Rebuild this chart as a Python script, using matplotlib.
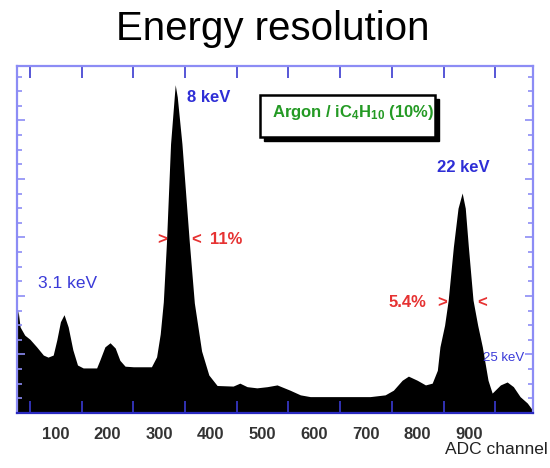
import matplotlib
matplotlib.use("Agg")
import matplotlib.pyplot as plt
from matplotlib.patches import Rectangle

plt.rcParams['font.family'] = ['Liberation Sans', 'DejaVu Sans']
plt.rcParams['mathtext.fontset'] = 'custom'
plt.rcParams['mathtext.rm'] = 'Liberation Sans:bold'
plt.rcParams['mathtext.it'] = 'Liberation Sans:bold'
plt.rcParams['mathtext.bf'] = 'Liberation Sans:bold'

# ---- data ----
adc_channel = [25, 27, 31, 40, 50, 63, 76, 85, 95, 102, 109, 116, 124, 133, 142, 153,
               179, 185, 195, 205, 215, 224, 234, 250, 285, 295, 302, 308, 314, 322,
               331, 335, 344, 358, 368, 382, 396, 412, 443, 456, 470, 489, 509, 528,
               553, 573, 592, 644, 708, 737, 753, 770, 782, 799, 815, 828, 838, 843,
               852, 859, 869, 878, 886, 892, 898, 907, 916, 925, 936, 944, 960, 973,
               985, 998, 1012, 1022]
counts = [1500, 1760, 1470, 1330, 1260, 1130, 990, 955, 990, 1250, 1560, 1680, 1470,
          1080, 820, 770, 770, 900, 1130, 1200, 1110, 900, 800, 790, 790, 960, 1350,
          1900, 2900, 4600, 5610, 5400, 4600, 2950, 1880, 1060, 650, 470, 460, 510,
          450, 430, 450, 480, 390, 310, 280, 280, 280, 310, 390, 560, 630, 560, 480,
          510, 730, 1130, 1500, 1930, 2840, 3500, 3760, 3500, 2840, 1930, 1500, 1130,
          560, 340, 480, 530, 450, 280, 170, 50]

xtick_labels = [100, 200, 300, 400, 500, 600, 700, 800, 900]
xtick_marks = [50, 150, 250, 350, 450, 550, 650, 750, 850, 950]

peak_labels = ["3.1 keV", "8 keV", "22 keV", "25 keV"]
peak_label_pos = [(65, 2220), (354, 5385), (838, 4190), (927, 940)]
fwhm_labels = ["11%", "5.4%"]

fig = plt.figure(figsize=(5.5, 4.68), dpi=100)
ax = fig.add_axes([17/550, 1-413/468, (533-17)/550, (413-66)/468])

ax.fill_between(adc_channel, counts, 0, color='black', lw=0, zorder=1)
ax.set_xlim(25, 1023)
ax.set_ylim(0, 5930)

frame = '#8c8cf5'
for side in ['left', 'right', 'top']:
    ax.spines[side].set_color(frame)
    ax.spines[side].set_linewidth(1.6)
ax.spines['bottom'].set_color('#2a2ac0')
ax.spines['bottom'].set_linewidth(1.6)
for s in ax.spines.values():
    s.set_zorder(3)

ax.set_xticks(xtick_labels)
ax.set_xticklabels([str(v) for v in xtick_labels], fontsize=12, fontweight='bold', color='#333333')
ax.set_xticks(xtick_marks, minor=True)
ax.tick_params(axis='x', which='major', length=0, pad=10)
ax.tick_params(axis='x', which='minor', direction='in', length=8.5, width=1.2,
               color='#3a3ad0', top=True, bottom=True)

ax.set_yticks(range(0, 6000, 1000))
ax.set_yticks(range(0, 6000, 250), minor=True)
ax.tick_params(axis='y', which='major', direction='in', length=6, width=1.2,
               color=frame, left=True, right=True, labelleft=False)
ax.tick_params(axis='y', which='minor', direction='in', length=3.5, width=1.2,
               color=frame, left=True, right=True)

blue = '#2e2ed6'
red = '#e63232'
green = '#249a24'
ax.text(*peak_label_pos[0], peak_labels[0], color='#3a3ad8', fontsize=12.5, ha='left', va='center')
ax.text(*peak_label_pos[1], peak_labels[1], color=blue, fontsize=12, fontweight='bold', ha='left', va='center')
ax.text(*peak_label_pos[2], peak_labels[2], color=blue, fontsize=12, fontweight='bold', ha='left', va='center')
ax.text(*peak_label_pos[3], peak_labels[3], color='#3a3ad8', fontsize=9.5, ha='left', va='center')

# FWHM markers
ax.text(305, 2957, '>', color=red, fontsize=12, fontweight='bold', ha='center', va='center')
ax.text(371, 2957, '<', color=red, fontsize=12, fontweight='bold', ha='center', va='center')
ax.text(398, 2957, fwhm_labels[0], color=red, fontsize=12, fontweight='bold', ha='left', va='center')
ax.text(743, 1880, fwhm_labels[1], color=red, fontsize=12, fontweight='bold', ha='left', va='center')
ax.text(847, 1880, '>', color=red, fontsize=12, fontweight='bold', ha='center', va='center')
ax.text(925, 1880, '<', color=red, fontsize=12, fontweight='bold', ha='center', va='center')

# gas box with shadow
ax.add_patch(Rectangle((503, 4650), 339, 718, facecolor='black', edgecolor='black', zorder=4))
ax.add_patch(Rectangle((495, 4718), 339, 718, facecolor='white', edgecolor='black', lw=1.8, zorder=5))
ax.text(518, 5060, r'Argon / iC$_4$H$_{10}$ (10%)', color=green, fontsize=12,
        fontweight='bold', ha='left', va='baseline', zorder=6)

fig.text(273/550, 1-40/468, 'Energy resolution', fontsize=29, ha='center', va='baseline', color='black')
fig.text(548/550, 1-450/468, 'ADC channel', fontsize=12.5, ha='right', va='center', color='#222222')

fig.savefig('out.png', dpi=100)
